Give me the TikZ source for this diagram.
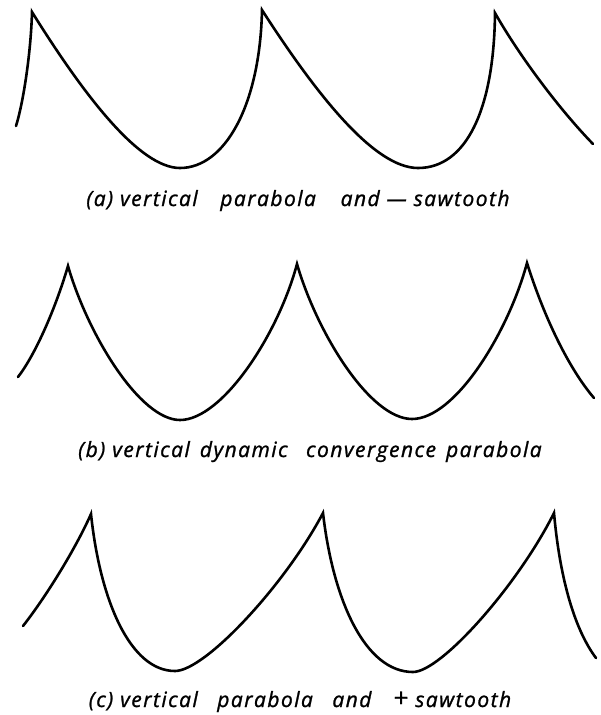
\documentclass[tikz,border=0pt]{standalone}
\usepackage{fontspec}
\setmainfont{Open Sans}[ItalicFeatures={FakeBold=1.2,LetterSpace=7}]
\begin{document}
\begin{tikzpicture}[x=1pt,y=-1pt,
  wave/.style={line width=2.6pt, line cap=round, line join=miter},
  caption/.style={anchor=base, font=\fontsize{21}{25}\selectfont\itshape, inner sep=0pt}]
\path[use as bounding box] (0,0) rectangle (600,715);
% ---------- (a) ----------
\coordinate (a0) at (16,126);
\coordinate (a1) at (32,12);
\coordinate (a2) at (180,168);
\coordinate (a3) at (262,10);
\coordinate (a4) at (418,168);
\coordinate (a5) at (495,13);
\coordinate (a6) at (593,144);
\draw[wave] (a0) .. controls (24,100) and (31,50) .. (a1)
  .. controls (85,97) and (140,168) .. (a2)
  .. controls (225,168) and (260,105) .. (a3)
  .. controls (318,97) and (375,168) .. (a4)
  .. controls (466,168) and (494,110) .. (a5)
  .. controls (520,57) and (560,110) .. (a6);
\node[caption] (la) at (298,206) {(a) vertical\hspace{0.75em} parabola\hspace{0.85em} and \textemdash\ sawtooth};
% ---------- (b) ----------
\coordinate (b0) at (18,377);
\coordinate (b1) at (68,266);
\coordinate (b2) at (180,420);
\coordinate (b3) at (297,264);
\coordinate (b4) at (412,419);
\coordinate (b5) at (527,263);
\coordinate (b6) at (594,398);
\draw[wave] (b0) .. controls (35,355) and (55,310) .. (b1)
  .. controls (88,335) and (140,420) .. (b2)
  .. controls (222,420) and (278,335) .. (b3)
  .. controls (317,333) and (370,419) .. (b4)
  .. controls (455,419) and (508,333) .. (b5)
  .. controls (545,320) and (570,370) .. (b6);
\node[caption] (lb) at (310,457) {(b) vertical\hspace{0.15em} dynamic\hspace{0.55em} convergence\hspace{0.15em} parabola};
% ---------- (c) ----------
\coordinate (c0) at (23,626);
\coordinate (c1) at (91,514);
\coordinate (c2) at (175,671);
\coordinate (c3) at (323,513);
\coordinate (c4) at (413,672);
\coordinate (c5) at (554,513);
\coordinate (c6) at (596,658);
\draw[wave] (c0) .. controls (45,598) and (75,550) .. (c1)
  .. controls (100,600) and (130,671) .. (c2)
  .. controls (205,671) and (285,585) .. (c3)
  .. controls (333,600) and (365,672) .. (c4)
  .. controls (441,672) and (518,585) .. (c5)
  .. controls (560,580) and (575,630) .. (c6);
\node[caption] (lc) at (300,707) {(c) vertical\hspace{0.6em} parabola\hspace{0.6em} and\hspace{0.7em} {\fontsize{26}{26}\selectfont +}\hspace{0.35em}sawtooth};
\end{tikzpicture}
\end{document}
